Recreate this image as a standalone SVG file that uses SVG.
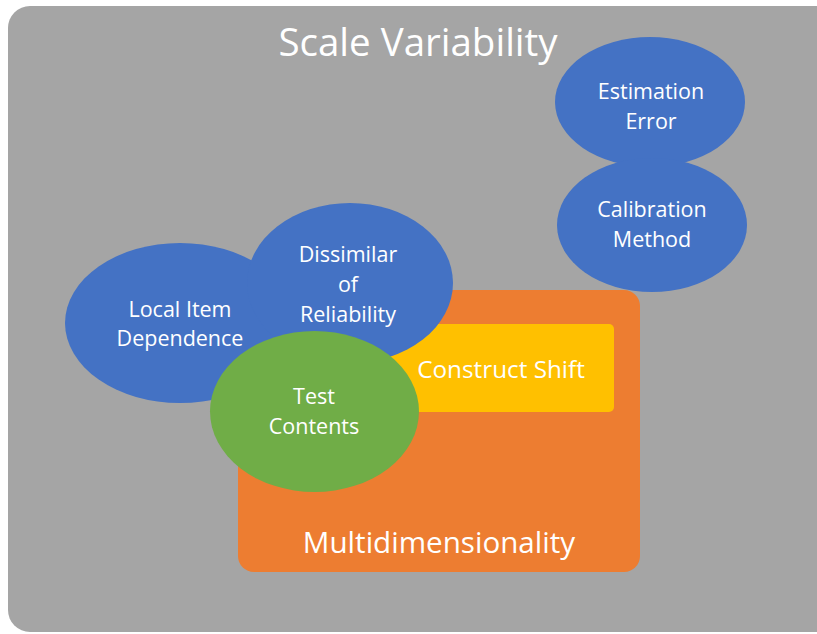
<svg xmlns="http://www.w3.org/2000/svg" width="817" height="634" viewBox="0 0 817 634">
  <style>
    .lbl { font-family: "Open Sans", "Noto Sans", "DejaVu Sans", sans-serif; fill: #ffffff; text-anchor: middle; }
    .sm { font-size: 21.5px; }
    .blue { fill: #4472c4; }
  </style>
  <rect x="0" y="0" width="817" height="634" fill="#ffffff"/>

  <!-- outer panel -->
  <g id="scale-variability">
    <rect x="8" y="6" width="830" height="626" rx="22" fill="#a5a5a5"/>
    <text class="lbl" x="418" y="56" font-size="38.5">Scale Variability</text>
  </g>

  <g id="multidimensionality">
    <rect x="238" y="290" width="402" height="282" rx="16" fill="#ed7d31"/>
    <text class="lbl" x="439" y="553" font-size="29.6">Multidimensionality</text>
  </g>

  <g id="construct-shift">
    <rect x="370" y="324" width="244" height="88" rx="5" fill="#ffc000"/>
    <text class="lbl" x="501" y="378" font-size="24.3">Construct Shift</text>
  </g>

  <g id="local-item-dependence">
    <ellipse class="blue" cx="180" cy="323" rx="115" ry="80"/>
    <text class="lbl sm" x="180" y="317">Local Item</text>
    <text class="lbl sm" x="180" y="346">Dependence</text>
  </g>

  <g id="dissimilar-reliability">
    <ellipse class="blue" cx="350" cy="283" rx="103" ry="80"/>
    <text class="lbl sm" x="348" y="262">Dissimilar</text>
    <text class="lbl sm" x="348" y="292">of</text>
    <text class="lbl sm" x="348" y="322">Reliability</text>
  </g>

  <g id="test-contents">
    <ellipse cx="314.5" cy="411.5" rx="104.5" ry="80.5" fill="#70ad47"/>
    <text class="lbl sm" x="314" y="404">Test</text>
    <text class="lbl sm" x="314" y="434">Contents</text>
  </g>

  <g id="estimation-error">
    <ellipse class="blue" cx="650" cy="102" rx="95" ry="65"/>
    <text class="lbl sm" x="651" y="99">Estimation</text>
    <text class="lbl sm" x="651" y="129">Error</text>
  </g>

  <g id="calibration-method">
    <ellipse class="blue" cx="652" cy="225" rx="95" ry="67"/>
    <text class="lbl sm" x="652" y="217">Calibration</text>
    <text class="lbl sm" x="652" y="247">Method</text>
  </g>

  <g id="connectors"/>
</svg>
